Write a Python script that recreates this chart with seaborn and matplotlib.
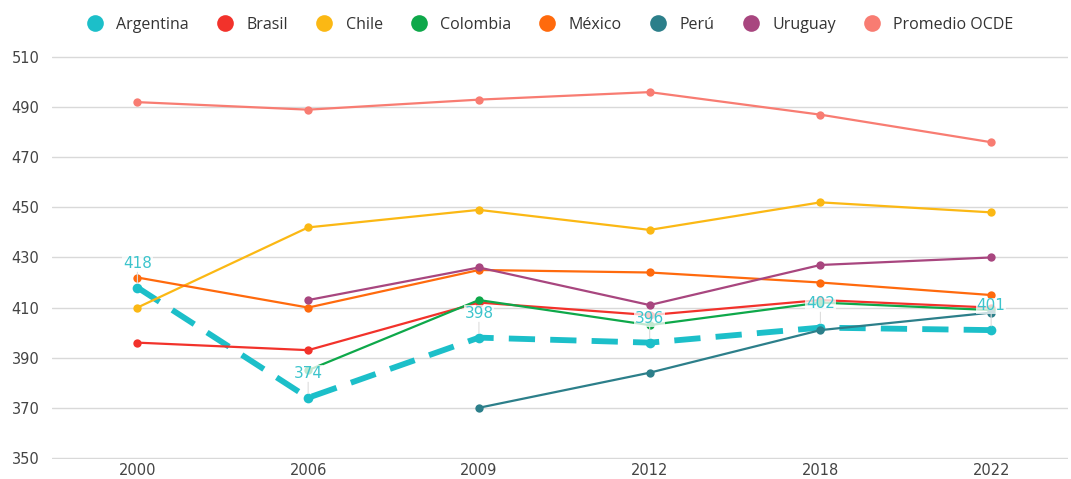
import pandas as pd
import matplotlib.pyplot as plt
import seaborn as sns
from matplotlib.lines import Line2D

# Datos (puntajes PISA por país)
years = ['2000', '2006', '2009', '2012', '2018', '2022']
argentina = [418, 374, 398, 396, 402, 401]
brasil = [396, 393, 412, 407, 413, 410]
chile = [410, 442, 449, 441, 452, 448]
colombia = [None, 385, 413, 403, 412, 409]
mexico = [422, 410, 425, 424, 420, 415]
peru = [None, None, 370, 384, 401, 408]
uruguay = [None, 413, 426, 411, 427, 430]
ocde = [492, 489, 493, 496, 487, 476]

series_names = ['Argentina', 'Brasil', 'Chile', 'Colombia', 'México', 'Perú', 'Uruguay', 'Promedio OCDE']
series_values = [argentina, brasil, chile, colombia, mexico, peru, uruguay, ocde]
colors = ['#1CBFC9', '#F2322B', '#FBB814', '#0EA84A', '#FF6A0D', '#2C7F8A', '#A8467F', '#F87C72']
palette = dict(zip(series_names, colors))

rows = []
for name, vals in zip(series_names, series_values):
    for i, v in enumerate(vals):
        if v is not None:
            rows.append({'pais': name, 'pos': i, 'anio': years[i], 'puntaje': v})
df = pd.DataFrame(rows)

sns.set_theme(style='whitegrid')
plt.rcParams['font.family'] = ['DejaVu Sans']

fig = plt.figure(figsize=(10.71, 4.79), dpi=100)
ax = fig.add_axes([0.0486, 0.042, 0.9486, 0.841])

# Argentina: línea discontinua gruesa, debajo del resto
arg = df[df['pais'] == 'Argentina']
sns.lineplot(data=arg, x='pos', y='puntaje', ax=ax, color=palette['Argentina'],
             linewidth=4.2, marker='o', markersize=7, markeredgewidth=0,
             linestyle=(0, (4.5, 2.6)), legend=False)

for name in series_names[1:]:
    sub = df[df['pais'] == name]
    sns.lineplot(data=sub, x='pos', y='puntaje', ax=ax, color=palette[name],
                 linewidth=1.6, marker='o', markersize=6, markeredgewidth=0,
                 legend=False)

# etiquetas de Argentina con línea guía
for _, r in arg.iterrows():
    ax.annotate(f"{r['puntaje']:.0f}", xy=(r['pos'], r['puntaje']),
                xytext=(0, 12), textcoords='offset points', ha='center', va='bottom',
                color='#3CC4CC', fontsize=11,
                bbox=dict(boxstyle='square,pad=0.05', fc='white', ec='none', alpha=0.75),
                arrowprops=dict(arrowstyle='-', color='#DDDDDD', lw=0.8,
                                shrinkA=0, shrinkB=3))

ax.set_xlim(-0.5, 5.45)
ax.set_ylim(349.6, 510.4)
ax.set_yticks(range(350, 511, 20))
ax.set_xticks(range(len(years)))
ax.set_xticklabels(years)
ax.set_xlabel('')
ax.set_ylabel('')
ax.grid(axis='x', visible=False)
ax.grid(axis='y', color='#D9D9D9', linewidth=1)
for s in ax.spines.values():
    s.set_visible(False)
ax.tick_params(axis='both', labelsize=10.5, colors='#444444', length=0)
ax.tick_params(axis='x', pad=3)
ax.tick_params(axis='y', pad=9)

handles = [Line2D([], [], linestyle='none', marker='o', markersize=12,
                  markerfacecolor=c, markeredgewidth=0) for c in colors]
fig.legend(handles, series_names, loc='upper center', bbox_to_anchor=(0.51, 0.995),
           ncol=8, frameon=False, handletextpad=0.35, columnspacing=1.25,
           prop={'family': 'Open Sans', 'size': 11.5}, labelcolor='#333333')

fig.savefig('out.png', dpi=100)
